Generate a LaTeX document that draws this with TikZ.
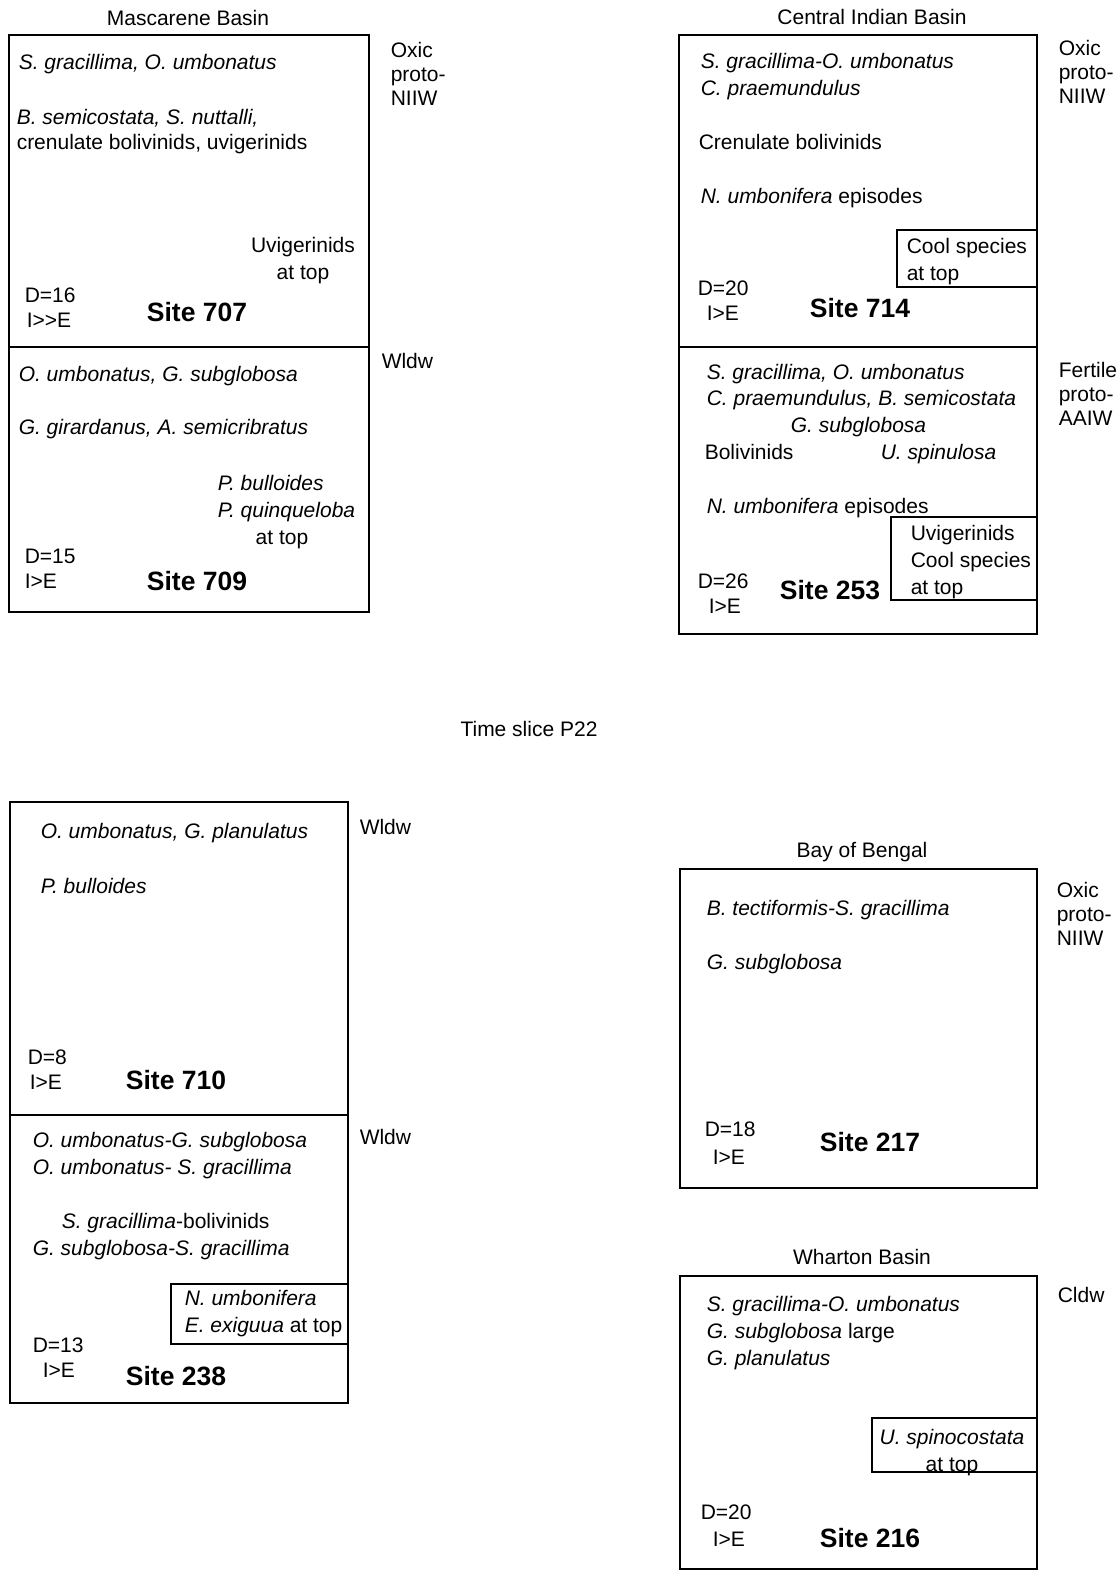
\documentclass[tikz,border=0pt]{standalone}
\usepackage{fontspec}
\setmainfont{Liberation Sans}
\usetikzlibrary{positioning}

\begin{document}
\begin{tikzpicture}[x=1pt, y=-1pt, line width=1.5pt,
    every node/.style={inner sep=0pt, anchor=base west},
    txt/.style={align=left, font=\fontsize{21}{27}\selectfont},
    water/.style={align=left, font=\fontsize{21}{24}\selectfont},
    ttl/.style={anchor=base, font=\fontsize{21}{24}\selectfont},
    site/.style={anchor=base, font=\bfseries\fontsize{26.5}{30}\selectfont},
    mid/.style={txt, align=center, anchor=base}]
  \useasboundingbox (0,0) rectangle (1119,1572);
  % Mascarene Basin
  \node[ttl] (mascT) at (188,25) {Mascarene Basin};
  \draw (9,35) rectangle (369,612) (9,347) -- (369,347);
  \node[water] (mascW1) at (390,105) {Oxic\\proto-\\NIIW};
  \node[water] (mascW2) at (381,368) {Wldw};
  \node[txt] (a707) at (18,69) {\textit{S. gracillima, O. umbonatus}};
  \node[txt, font=\fontsize{21}{25}\selectfont] (b707) at (16,149) {\textit{B. semicostata, S. nuttalli,}\\crenulate bolivinids, uvigerinids};
  \node[mid] (c707) at (303,279) {Uvigerinids\\at top};
  \node[txt, font=\fontsize{21}{25}\selectfont] (d707) at (24,327) {D=16\\\hspace*{2pt}I{>}{>}E};
  \node[site] (s707) at (197,321) {Site 707};
  \node[txt] (a709) at (18,381) {\textit{O. umbonatus, G. subglobosa}};
  \node[txt] (b709) at (18,434) {\textit{G. girardanus, A. semicribratus}};
  \node[txt] (c709) at (217,517) {\textit{P. bulloides}\\\textit{P. quinqueloba}};
  \node[mid] (t709) at (282,544) {at top};
  \node[txt, font=\fontsize{21}{25}\selectfont] (d709) at (24,588) {D=15\\I>E};
  \node[site] (s709) at (197,590) {Site 709};
  % Central Indian Basin
  \node[ttl] (cibT) at (872,24) {Central Indian Basin};
  \draw (679,35) rectangle (1037,634) (679,347) -- (1037,347);
  \draw (897,230) rectangle (1037,287) (891,517) rectangle (1037,600);
  \node[water] (cibW1) at (1058,103) {Oxic\\proto-\\NIIW};
  \node[water] (cibW2) at (1058,425) {Fertile\\proto-\\AAIW};
  \node[txt] (a714) at (700,95) {\textit{S. gracillima-O. umbonatus}\\\textit{C. praemundulus}};
  \node[txt] (b714) at (698,149) {Crenulate bolivinids};
  \node[txt] (c714) at (700,203) {\textit{N. umbonifera} episodes};
  \node[txt] (e714) at (906,280) {Cool species\\at top};
  \node[txt, font=\fontsize{21}{25}\selectfont] (d714) at (697,320) {D=20\\\hspace*{9pt}I>E};
  \node[site] (s714) at (860,317) {Site 714};
  \node[txt, font=\fontsize{21}{26}\selectfont] (a253) at (706,405) {\textit{S. gracillima, O. umbonatus}\\\textit{C. praemundulus, B. semicostata}};
  \node[txt] (b253) at (790,432) {\textit{G. subglobosa}};
  \node[txt] (c253) at (704,459) {Bolivinids};
  \node[txt] (f253) at (880,459) {\textit{U. spinulosa}};
  \node[txt] (g253) at (706,513) {\textit{N. umbonifera} episodes};
  \node[txt] (e253) at (910,594) {Uvigerinids\\Cool species\\at top};
  \node[txt, font=\fontsize{21}{25}\selectfont] (d253) at (697,613) {D=26\\\hspace*{11pt}I>E};
  \node[site] (s253) at (830,599) {Site 253};
  % time slice
  \node[ttl] (slice) at (529,736) {Time slice P22};
  % Sites 710 and 238
  \draw (10,802) rectangle (348,1403) (10,1115) -- (348,1115);
  \draw (171,1284) rectangle (348,1344);
  \node[water] (w710) at (359,834) {Wldw};
  \node[water] (w238) at (359,1144) {Wldw};
  \node[txt] (a710) at (40,838) {\textit{O. umbonatus, G. planulatus}};
  \node[txt] (b710) at (40,893) {\textit{P. bulloides}};
  \node[txt, font=\fontsize{21}{25}\selectfont] (d710) at (27,1089) {D=8\\\hspace*{2pt}I>E};
  \node[site] (s710) at (176,1089) {Site 710};
  \node[txt] (a238) at (32,1174) {\textit{O. umbonatus-G. subglobosa}\\\textit{O. umbonatus- S. gracillima}};
  \node[txt] (b238) at (61,1228) {\textit{S. gracillima}-bolivinids};
  \node[txt] (c238) at (32,1255) {\textit{G. subglobosa-S. gracillima}};
  \node[txt] (e238) at (184,1332) {\textit{N. umbonifera}\\\textit{E. exiguua} at top};
  \node[txt, font=\fontsize{21}{25}\selectfont] (d238) at (32,1377) {D=13\\\hspace*{10pt}I>E};
  \node[site] (s238) at (176,1385) {Site 238};
  % Bay of Bengal
  \node[ttl] (bobT) at (862,857) {Bay of Bengal};
  \draw (680,869) rectangle (1037,1188);
  \node[water] (bobW) at (1056,945) {Oxic\\proto-\\NIIW};
  \node[txt] (a217) at (706,915) {\textit{B. tectiformis-S. gracillima}};
  \node[txt] (b217) at (706,969) {\textit{G. subglobosa}};
  \node[txt, font=\fontsize{21}{28}\selectfont] (d217) at (704,1164) {D=18\\\hspace*{8pt}I>E};
  \node[site] (s217) at (870,1151) {Site 217};
  % Wharton Basin
  \node[ttl] (whT) at (862,1264) {Wharton Basin};
  \draw (680,1276) rectangle (1037,1569);
  \draw (872,1418) rectangle (1037,1472);
  \node[water] (whW) at (1057,1302) {Cldw};
  \node[txt] (a216) at (706,1365) {\textit{S. gracillima-O. umbonatus}\\\textit{G. subglobosa} large\\\textit{G. planulatus}};
  \node[mid] (e216) at (952,1471) {\textit{U. spinocostata}\\at top};
  \node[txt] (d216) at (700,1546) {D=20\\\hspace*{12pt}I>E};
  \node[site] (s216) at (870,1547) {Site 216};
\end{tikzpicture}
\end{document}
